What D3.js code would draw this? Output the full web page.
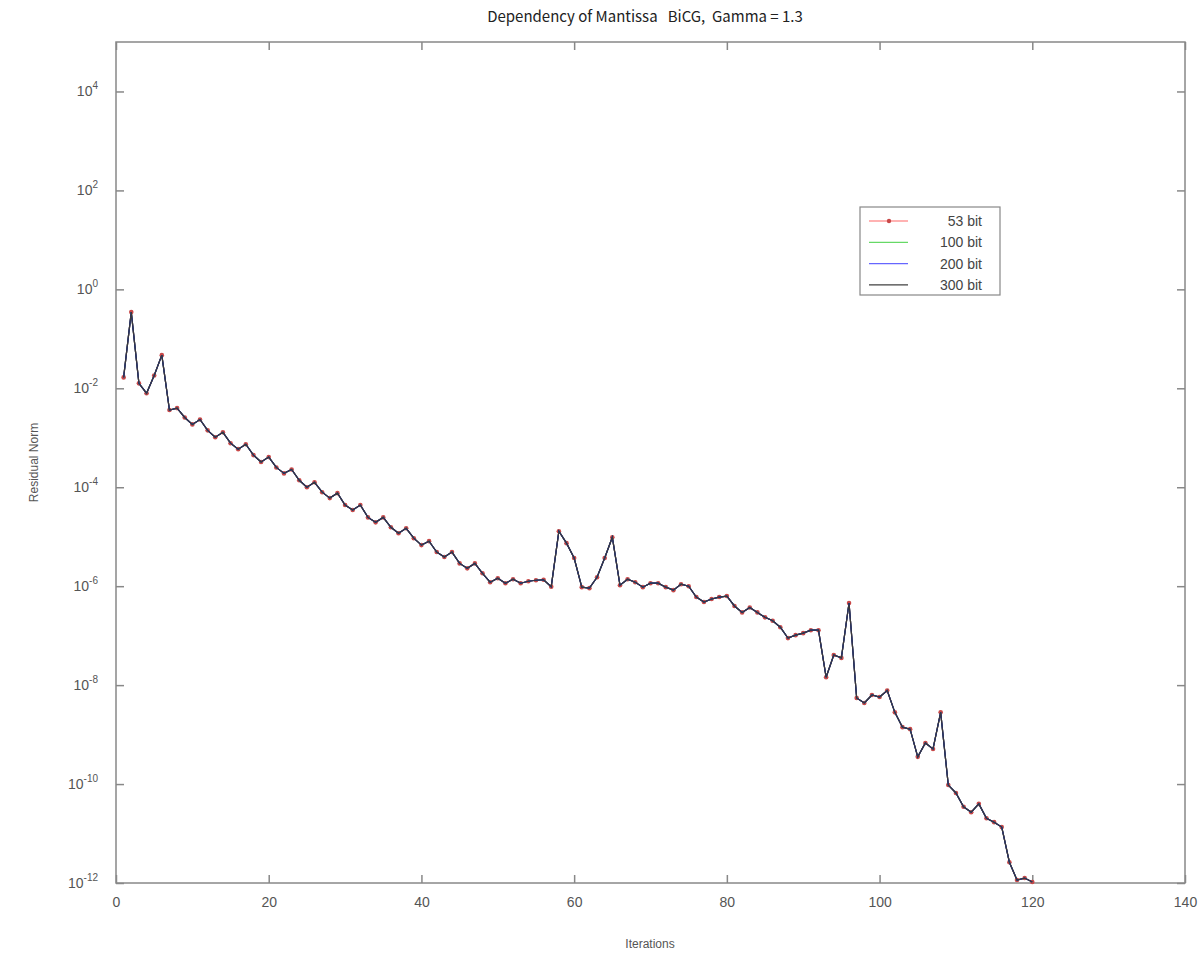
<!DOCTYPE html>
<html>
<head>
<meta charset="utf-8">
<script src="https://cdn.jsdelivr.net/npm/d3@7"></script>
<style>
  body { margin: 0; background: #fff; }
  .tick text { fill: #555; font-family: "Liberation Sans", Arial, sans-serif; font-size: 14px; }
  .label { fill: #555; font-family: "Liberation Sans", Arial, sans-serif; font-size: 12px; }
</style>
</head>
<body>
<div id="chart"></div>
<script>
// iteration numbers and residual norm (same for every mantissa length)
var iterations = d3.range(1, 121);
var residual = [
  -1.78, -0.46, -1.90, -2.10, -1.74, -1.33, -2.44, -2.40, -2.59, -2.73,
  -2.63, -2.85, -2.99, -2.89, -3.11, -3.23, -3.13, -3.35, -3.49, -3.39,
  -3.60, -3.72, -3.64, -3.86, -4.00, -3.90, -4.10, -4.22, -4.12, -4.36,
  -4.46, -4.36, -4.61, -4.71, -4.61, -4.81, -4.93, -4.83, -5.03, -5.17,
  -5.09, -5.31, -5.41, -5.31, -5.54, -5.64, -5.54, -5.74, -5.92, -5.84,
  -5.94, -5.86, -5.94, -5.90, -5.88, -5.87, -6.01, -4.89, -5.13, -5.43,
  -6.02, -6.04, -5.82, -5.43, -5.01, -5.98, -5.86, -5.92, -6.02, -5.94,
  -5.94, -6.02, -6.08, -5.96, -6.00, -6.22, -6.32, -6.26, -6.22, -6.20,
  -6.40, -6.53, -6.43, -6.53, -6.63, -6.70, -6.83, -7.05, -6.99, -6.95,
  -6.89, -6.89, -7.84, -7.39, -7.45, -6.34, -8.26, -8.36, -8.20, -8.24,
  -8.11, -8.55, -8.85, -8.89, -9.45, -9.17, -9.29, -8.55, -10.02, -10.18,
  -10.46, -10.57, -10.40, -10.69, -10.77, -10.87, -11.58, -11.94, -11.90, -11.98
].map(function(e) { return Math.pow(10, e); });

var seriesNames = ["53 bit", "100 bit", "200 bit", "300 bit"];
var seriesColors = ["#ff0000", "#00c000", "#0000ff", "#000000"];
var xTicks = [0, 20, 40, 60, 80, 100, 120, 140];
var yTicks = [1e-12, 1e-10, 1e-8, 1e-6, 1e-4, 1e-2, 1e0, 1e2, 1e4];

var w = 1204, h = 956;
var plotLeft = 116, plotRight = 1185, plotTop = 42, plotBottom = 883;

var svg = d3.select("#chart")
    .append("svg")
    .attr("width", w)
    .attr("height", h);

var xScale = d3.scaleLinear().domain([0, 140]).range([plotLeft, plotRight]);
var yScale = d3.scaleLog().domain([1e-12, 1e5]).range([plotBottom, plotTop]);

// frame
svg.append("rect")
    .attr("x", plotLeft).attr("y", plotTop)
    .attr("width", plotRight - plotLeft).attr("height", plotBottom - plotTop)
    .attr("fill", "none")
    .attr("stroke", "#888")
    .attr("stroke-width", 1.5);

//x axis, ticks inward
var xAxis = d3.axisBottom(xScale).tickValues(xTicks).tickSize(-8).tickPadding(14);
var gx = svg.append("g").attr("transform", "translate(0," + plotBottom + ")").call(xAxis);
svg.append("g").attr("transform", "translate(0," + plotTop + ")")
    .call(d3.axisTop(xScale).tickValues(xTicks).tickSize(-8).tickFormat(""));

//y axis with superscript exponents
var yAxis = d3.axisLeft(yScale).tickValues(yTicks).tickSize(-8).tickPadding(18).tickFormat("");
var gy = svg.append("g").attr("transform", "translate(" + plotLeft + ",0)").call(yAxis);
svg.append("g").attr("transform", "translate(" + plotRight + ",0)")
    .call(d3.axisRight(yScale).tickValues(yTicks).tickSize(-8).tickFormat(""));

gy.selectAll(".tick text").each(function(d) {
    var t = d3.select(this);
    t.append("tspan").text("10");
    t.append("tspan").attr("dy", -7).style("font-size", "10px").text(Math.round(Math.log10(d)));
});

svg.selectAll(".domain").remove();
svg.selectAll(".tick line").attr("stroke", "#888").attr("stroke-width", 1.5);

//lines
var line = d3.line()
    .x(function(d, i) { return xScale(iterations[i]); })
    .y(function(d) { return yScale(d); });

seriesNames.forEach(function(name, k) {
    svg.append("path")
        .datum(residual)
        .attr("d", line)
        .attr("fill", "none")
        .attr("stroke", k == 3 ? "#3a3a3a" : seriesColors[k])
        .attr("stroke-width", 1.2);
    if (k == 0) {
        svg.selectAll("dot")
            .data(residual)
            .enter()
            .append("circle")
            .attr("cx", function(d, i) { return xScale(iterations[i]); })
            .attr("cy", function(d) { return yScale(d); })
            .attr("r", 2.3)
            .attr("fill", "#c84848");
    }
});

//title and axis labels
svg.append("text")
    .attr("x", 645).attr("y", 22)
    .attr("text-anchor", "middle")
    .style("font-family", "'Noto Sans CJK JP', 'Liberation Sans', sans-serif")
    .style("font-size", "15px")
    .style("fill", "#222")
    .text("Dependency of Mantissa\u00a0\u00a0\u00a0BiCG,\u00a0\u00a0Gamma = 1.3");

svg.append("text")
    .attr("class", "label")
    .attr("x", 650).attr("y", 948)
    .attr("text-anchor", "middle")
    .text("Iterations");

svg.append("text")
    .attr("class", "label")
    .attr("transform", "translate(38," + ((plotTop + plotBottom) / 2) + ") rotate(-90)")
    .attr("text-anchor", "middle")
    .text("Residual Norm");

//legend
var legend = svg.append("g");
legend.append("rect")
    .attr("x", 860).attr("y", 207)
    .attr("width", 140).attr("height", 88)
    .attr("fill", "#fff")
    .attr("stroke", "#888")
    .attr("stroke-width", 1.2);

seriesNames.forEach(function(name, k) {
    var yy = 221 + k * 21.3;
    legend.append("line")
        .attr("x1", 869).attr("x2", 908)
        .attr("y1", yy).attr("y2", yy)
        .attr("stroke", seriesColors[k])
        .attr("stroke-opacity", k == 3 ? 0.75 : 0.6)
        .attr("stroke-width", 1.2);
    if (k == 0) {
        legend.append("circle").attr("cx", 889).attr("cy", yy).attr("r", 2.2).attr("fill", "#c84848");
    }
    legend.append("text")
        .attr("x", 982).attr("y", yy + 5)
        .attr("text-anchor", "end")
        .style("font-family", "'Liberation Sans', Arial, sans-serif")
        .style("font-size", "14px")
        .style("fill", "#444")
        .text(name);
});
</script>
</body>
</html>
